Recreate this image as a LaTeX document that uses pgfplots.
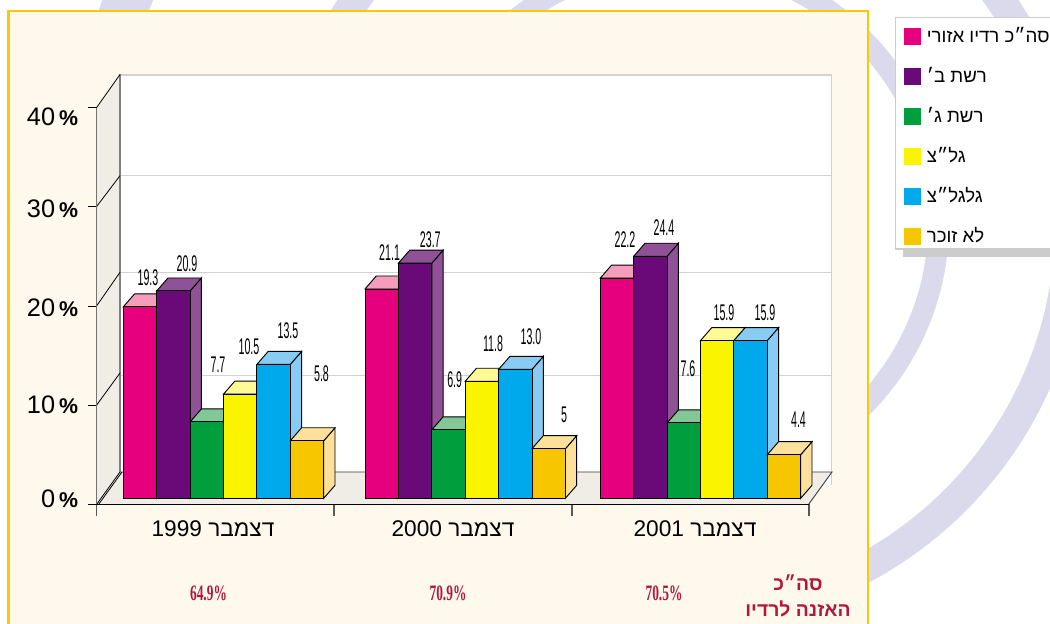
\documentclass[border=0pt]{standalone}
\usepackage{fontspec}
\usepackage{pgfplots}
\pgfplotsset{compat=1.18}
\setmainfont{Liberation Sans}
\newfontfamily\heb[Script=Hebrew]{Liberation Sans}
\newfontfamily\serifb[Script=Latin]{Liberation Serif}
\TeXXeTstate=1
\definecolor{cPink}{HTML}{E6007E}\definecolor{cPinkT}{HTML}{F59DBC}
\definecolor{cPurp}{HTML}{6A0A78}\definecolor{cPurpT}{HTML}{905297}
\definecolor{cGreen}{HTML}{009E3D}\definecolor{cGreenT}{HTML}{82C796}
\definecolor{cYel}{HTML}{FAF400}\definecolor{cYelT}{HTML}{FFF996}
\definecolor{cBlue}{HTML}{00A9EC}\definecolor{cBlueT}{HTML}{89CCF3}
\definecolor{cOr}{HTML}{F6C600}\definecolor{cOrT}{HTML}{FDE09C}
\definecolor{ring}{HTML}{DADAEC}
\definecolor{panel}{HTML}{FFF8EC}
\definecolor{border}{HTML}{F8C800}
\definecolor{wall}{HTML}{F0EDE6}
\definecolor{redt}{HTML}{B0173C}
% depth offset of the bars, in px and in %
\def\dX{11.3}\def\dV{1.31}\def\bW{33.4}
% top and side faces of a 3D bar: left x, value, top colour, side colour
\newcommand\barfaces[4]{%
  \pgfmathsetmacro\xa{#1}\pgfmathsetmacro\xb{#1+\bW}%
  \pgfmathsetmacro\xc{#1+\bW+\dX}\pgfmathsetmacro\xd{#1+\dX}%
  \pgfmathsetmacro\vt{#2+\dV}%
  \addplot[fill=#4,draw=black,line width=0.7pt,forget plot] coordinates {(\xb,0)(\xc,\dV)(\xc,\vt)(\xb,#2)} --cycle;
  \addplot[fill=#3,draw=black,line width=0.7pt,forget plot] coordinates {(\xa,#2)(\xb,#2)(\xc,\vt)(\xd,\vt)} --cycle;
}
\newcommand\vlab[3]{\node[font=\fontsize{17}{17}\selectfont,inner sep=0pt] at (#1,#2) {\scalebox{0.47}[1]{#3}};}
\newcommand\tot[2]{\node[font=\serifb\bfseries\fontsize{16.5}{16.5}\selectfont,text=redt,inner sep=0pt] at (#1,593) {\scalebox{0.61}[1]{#2}};}
\pgfplotsset{sw/.style={legend image code/.code={\fill[##1,draw=none] (0pt,-6.4pt) rectangle (12.8pt,6.4pt);}}}
\newcommand\pct{\hspace{3pt}{\bfseries\fontsize{16}{16}\selectfont\%}}
\begin{document}
\begin{tikzpicture}
\path[use as bounding box] (0,0) rectangle (787.5pt,468pt);
\begin{scope}[x=0.75pt,y=-0.75pt,yshift=468pt]
\clip (0,0) rectangle (1050,624);
\fill[white] (0,0) rectangle (1050,624);
\draw[ring,line width=15.75pt] (678,223) circle[radius=260.5];
\draw[ring,line width=22.5pt] (678,223) circle[radius=392];
\draw[ring,line width=35.25pt] (678,223) circle[radius=593.5];
\fill[panel] (8.7,11) rectangle (868,640);
\draw[border,line width=1.9pt] (8.7,640) -- (8.7,11) -- (868,11) -- (868,640);
% back wall
\fill[white] (120,75) rectangle (831.5,485);
\draw[gray!35,line width=0.8pt] (120,75) -- (831.5,75) -- (831.5,485);
\draw[gray!35,line width=0.8pt] (120,175.7) -- (831.5,175.7);
\draw[gray!35,line width=0.8pt] (120,272.3) -- (831.5,272.3);
\draw[gray!35,line width=0.8pt] (120,375.3) -- (831.5,375.3);
% left wall and floor
\fill[wall] (96.5,107.7) -- (120,74.5) -- (120,472) -- (96.5,504.5) -- cycle;
\fill[wall] (96.5,504.5) -- (120,472) -- (832,472) -- (808.5,504.5) -- cycle;
\draw[black!50,line width=0.9pt] (120,74.5) -- (120,472);
\draw[black!75,line width=0.7pt] (120,472) -- (832,472) -- (808.5,504.5);
\draw[black,line width=0.6pt] (96.5,107.7) -- (120,74.5);
\draw[black,line width=0.6pt] (96.5,206.7) -- (120,175.7);
\draw[black,line width=0.6pt] (96.5,306.1) -- (120,272.3);
\draw[black,line width=0.6pt] (96.5,405.3) -- (120,373);
\draw[black,line width=0.6pt] (96.5,504.5) -- (120,472);
\draw[black,line width=0.6pt] (98.5,504.5) -- (122,472);
% legend shadow and box
\fill[black!20] (903,249) rectangle (1060,257);
\filldraw[fill=white,draw=black!20,line width=0.8pt] (895.5,17.5) rectangle (1070,249);
\end{scope}

\begin{axis}[
  at={(0pt,0pt)},anchor=south west,scale only axis,width=787.5pt,height=468pt,
  xmin=0,xmax=1050,ymin=-12.671,ymax=50.232,hide axis,clip=false,
  legend style={at={(axis cs:895.5,48.62)},anchor=north west,draw=none,fill=none,
    inner xsep=6pt,inner ysep=0pt,row sep=0pt,column sep=4.5pt,
    cells={anchor=west},
    nodes={inner sep=0pt,minimum height=30pt,font=\heb\fontsize{14}{14}\selectfont}},
]
% pink
\barfaces{123.3}{19.3}{cPinkT}{cPinkT}\barfaces{365}{21.1}{cPinkT}{cPinkT}\barfaces{600.3}{22.2}{cPinkT}{cPinkT}
\addplot[ybar,bar shift=0pt,bar width=33.4,fill=cPink,draw=black,line width=0.7pt,sw] coordinates {(140,19.3)(381.7,21.1)(617,22.2)};
\addlegendentry{\beginR סה״כ רדיו אזורי\endR}
% purple
\barfaces{156.7}{20.9}{cPurpT}{cPurpT}\barfaces{398.4}{23.7}{cPurpT}{cPurpT}\barfaces{633.7}{24.4}{cPurpT}{cPurpT}
\addplot[ybar,bar shift=0pt,bar width=33.4,fill=cPurp,draw=black,line width=0.7pt,sw] coordinates {(173.4,20.9)(415.1,23.7)(650.4,24.4)};
\addlegendentry{\beginR רשת ב׳\endR}
% green
\barfaces{190.1}{7.7}{cGreenT}{cGreenT}\barfaces{431.8}{6.9}{cGreenT}{cGreenT}\barfaces{667.1}{7.6}{cGreenT}{cGreenT}
\addplot[ybar,bar shift=0pt,bar width=33.4,fill=cGreen,draw=black,line width=0.7pt,sw] coordinates {(206.8,7.7)(448.5,6.9)(683.8,7.6)};
\addlegendentry{\beginR רשת ג׳\endR}
% yellow
\barfaces{223.5}{10.5}{cYelT}{cYelT}\barfaces{465.2}{11.8}{cYelT}{cYelT}\barfaces{700.5}{15.9}{cYelT}{cYelT}
\addplot[ybar,bar shift=0pt,bar width=33.4,fill=cYel,draw=black,line width=0.7pt,sw] coordinates {(240.2,10.5)(481.9,11.8)(717.2,15.9)};
\addlegendentry{\beginR גל״צ\endR}
% blue
\barfaces{256.9}{13.5}{cBlueT}{cBlueT}\barfaces{498.6}{13.0}{cBlueT}{cBlueT}\barfaces{733.9}{15.9}{cBlueT}{cBlueT}
\addplot[ybar,bar shift=0pt,bar width=33.4,fill=cBlue,draw=black,line width=0.7pt,sw] coordinates {(273.6,13.5)(515.3,13.0)(750.6,15.9)};
\addlegendentry{\beginR גלגל״צ\endR}
% orange
\barfaces{290.3}{5.8}{cOrT}{cOrT}\barfaces{532}{5}{cOrT}{cOrT}\barfaces{767.3}{4.4}{cOrT}{cOrT}
\addplot[ybar,bar shift=0pt,bar width=33.4,fill=cOr,draw=black,line width=0.7pt,sw] coordinates {(307,5.8)(548.7,5)(784,4.4)};
\addlegendentry{\beginR לא זוכר\endR}
\end{axis}

\begin{axis}[
  at={(72.375pt,89.625pt)},anchor=south west,scale only axis,width=534.375pt,height=297.6pt,
  xmin=96.5,xmax=809,ymin=0,ymax=40,
  axis x line*=bottom,axis y line*=left,
  x axis line style={black,line width=0.8pt,-},
  y axis line style={black!55,line width=1pt,-},
  tick align=outside,
  ytick={0,10,20,30,40},
  yticklabels={\raisebox{-2.1pt}[0pt][0pt]{0\pct},\raisebox{-6pt}[0pt][0pt]{10\pct},\raisebox{-7.75pt}[0pt][0pt]{20\pct},\raisebox{-8.1pt}[0pt][0pt]{30\pct},\raisebox{-13.2pt}[0pt][0pt]{40\pct}},
  yticklabel style={font=\fontsize{19}{19}\selectfont,anchor=east,xshift=-6pt},
  ytick style={black,line width=0.6pt,/pgfplots/major tick length=6pt},
  xtick={96.5,334,572,809},xticklabels={},
  xtick style={black!65,line width=0.8pt,/pgfplots/major tick length=8.5pt},
  extra x ticks={213,453,695},
  extra x tick labels={{\heb\beginR דצמבר \beginL 1999\endL\endR},{\heb\beginR דצמבר \beginL 2000\endL\endR},{\heb\beginR דצמבר \beginL 2001\endL\endR}},
  extra x tick style={tick style={draw=none},/pgfplots/major tick length=0pt,
    xticklabel style={font=\fontsize{17}{17}\selectfont,anchor=center,yshift=-18pt,inner sep=0pt}},
]
\end{axis}

\begin{scope}[x=0.75pt,y=-0.75pt,yshift=468pt]
\vlab{148}{278}{19.3}\vlab{187}{264}{20.9}\vlab{218}{365}{7.7}\vlab{249}{347}{10.5}\vlab{288}{331}{13.5}\vlab{321.5}{374}{5.8}
\vlab{389.6}{252.7}{21.1}\vlab{430.3}{240}{23.7}\vlab{454.7}{380}{6.9}\vlab{493}{344}{11.8}\vlab{531}{337}{13.0}\vlab{564}{415}{5}
\vlab{625}{240}{22.2}\vlab{664}{228}{24.4}\vlab{688}{369}{7.6}\vlab{724}{313}{15.9}\vlab{765}{313}{15.9}\vlab{798.5}{420}{4.4}
\tot{208.5}{64.9\%}\tot{448}{70.9\%}\tot{664}{70.5\%}
\node[font=\heb\bfseries\fontsize{14.5}{14.5}\selectfont,text=redt,inner sep=0pt] at (798,583) {\beginR סה״כ\endR};
\node[font=\heb\bfseries\fontsize{14.5}{14.5}\selectfont,text=redt,inner sep=0pt] at (798,609) {\beginR האזנה לרדיו\endR};
\end{scope}
\end{tikzpicture}
\end{document}
